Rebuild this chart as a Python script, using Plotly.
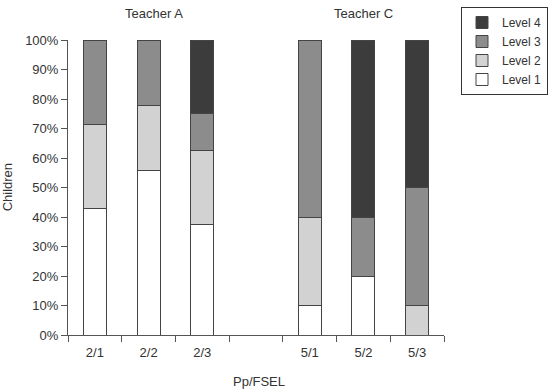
import plotly.graph_objects as go

categories = ["2/1", "2/2", "2/3", " ", "5/1", "5/2", "5/3"]
level1 = [42.9, 55.6, 37.5, None, 10, 20, 0]
level2 = [28.5, 22.2, 25.0, None, 30, 0, 10]
level3 = [28.6, 22.2, 12.5, None, 60, 20, 40]
level4 = [0, 0, 25.0, None, 0, 60, 50]
yticks = [0, 10, 20, 30, 40, 50, 60, 70, 80, 90, 100]
yticklabels = [f"{v}%" for v in yticks]

series = [("Level 1", level1, "#ffffff"),
          ("Level 2", level2, "#d2d2d2"),
          ("Level 3", level3, "#8c8c8c"),
          ("Level 4", level4, "#3c3c3c")]

FONT = "Liberation Sans, Arial, sans-serif"
fig = go.Figure()
for name, vals, col in series:
    fig.add_trace(go.Bar(x=categories, y=vals, name=name, width=0.43, legendgroup=name,
                         marker=dict(color=col, line=dict(color="#444", width=1))))

fig.update_layout(
    barmode="stack", width=556, height=390, autosize=False,
    margin=dict(l=68, r=112, t=40, b=55, autoexpand=False),
    paper_bgcolor="white", plot_bgcolor="white",
    font=dict(family=FONT, size=13, color="#333"),
    showlegend=True,
    legend=dict(traceorder="reversed", xref="container", yref="container",
                x=548 / 556, y=1 - 7 / 390, xanchor="right", yanchor="top",
                tracegroupgap=4,
                bordercolor="#333", borderwidth=1, bgcolor="white",
                font=dict(size=12, color="#333")),
    xaxis=dict(type="category", range=[-0.5, 6.5], showline=True, linecolor="#555",
               ticks="outside", tickson="boundaries", ticklen=6, tickcolor="#555",
               ticklabelstandoff=5,
               showgrid=False, zeroline=False),
    yaxis=dict(range=[0, 100], tickvals=yticks, ticktext=yticklabels, showline=True,
               linecolor="#555", ticks="outside", ticklen=6, tickcolor="#555",
               showgrid=False, zeroline=False),
    annotations=[
        dict(text="Teacher A", x="2/2", y=1.09, xref="x", yref="paper", showarrow=False,
             xshift=5, yanchor="middle", font=dict(size=13)),
        dict(text="Teacher C", x="5/2", y=1.09, xref="x", yref="paper", showarrow=False,
             yanchor="middle", font=dict(size=13)),
        dict(text="Children", x=-0.16, y=0.5, xref="paper", yref="paper", showarrow=False,
             xanchor="center", yanchor="middle", textangle=-90, font=dict(size=13)),
        dict(text="Pp/FSEL", x=0.508, y=-0.159, xref="paper", yref="paper", showarrow=False,
             xanchor="center", yanchor="middle", font=dict(size=13)),
    ],
)
fig.write_html("out.html")
